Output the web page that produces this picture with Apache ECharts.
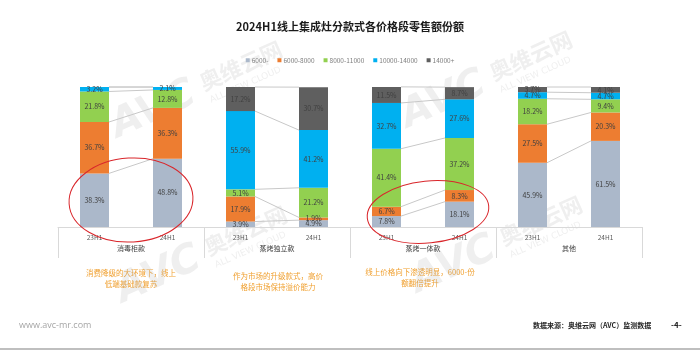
<!DOCTYPE html>
<html lang="zh">
<head>
  <meta charset="UTF-8">
  <title>2024H1线上集成灶分款式各价格段零售额份额</title>
  <script src="https://cdn.jsdelivr.net/npm/echarts@6/dist/echarts.min.js"></script>
  <style>
    html, body { margin: 0; padding: 0; background: #fff; }
    #main { width: 700px; height: 351px; }
  </style>
</head>
<body>
  <div id="main"></div>
  <script type="text/javascript">
    // 数据
    var periods = ['23H1', '24H1', '23H1', '24H1', '23H1', '24H1', '23H1', '24H1'];
    var groups = ['消毒柜款', '蒸烤独立款', '蒸烤一体款', '其他'];
    var bandNames = ['6000-', '6000-8000', '8000-11000', '10000-14000', '14000+'];
    var below6000 = [38.3, 48.8, 3.9, 4.9, 7.8, 18.1, 45.9, 61.5];
    var p6000to8000 = [36.7, 36.3, 17.9, 1.9, 6.7, 8.3, 27.5, 20.3];
    var p8000to11000 = [21.8, 12.8, 5.1, 21.2, 41.4, 37.2, 18.2, 9.4];
    var p10000to14000 = [3.2, 2.1, 55.9, 41.2, 32.7, 27.6, 4.7, 4.7];
    var above14000 = [0, 0, 17.2, 30.7, 11.5, 8.7, 3.7, 4.1];
    var notes = [
      '消费降级的大环境下，线上\n低端基础款复苏',
      '作为市场的升级款式，高价\n格段市场保持溢价能力',
      '线上价格向下渗透明显，6000-份\n额翻倍提升'
    ];

    var colors = ['#ABB8CA', '#ED7D31', '#92D050', '#00B0F0', '#5F5F5F'];
    var bands = [below6000, p6000to8000, p8000to11000, p10000to14000, above14000];
    var font = '"Noto Sans CJK SC", "Noto Sans", sans-serif';
    var barW = 29;

    var myChart = echarts.init(document.getElementById('main'));

    // 连接线：每组两根柱子之间的累计分界
    var links = [];
    for (var g = 0; g < groups.length; g++) {
      var c1 = 0, c2 = 0;
      for (var s = 0; s < bands.length; s++) {
        c1 += bands[s][g * 2];
        c2 += bands[s][g * 2 + 1];
        links.push([g, c1, c2]);
      }
    }

    var series = bands.map(function (arr, i) {
      return {
        name: bandNames[i],
        type: 'bar',
        stack: 'total',
        barWidth: barW,
        data: arr,
        itemStyle: { color: colors[i] },
        label: {
          show: true,
          color: '#404040',
          fontSize: 7,
          fontFamily: font,
          formatter: function (p) { return p.value ? p.value.toFixed(1) + '%' : ''; }
        }
      };
    });

    series.push({
      type: 'custom',
      silent: true,
      z: 1,
      data: links,
      encode: { x: 0, y: 1 },
      renderItem: function (params, api) {
        var g = api.value(0);
        var a = api.coord([g * 2, api.value(1)]);
        var b = api.coord([g * 2 + 1, api.value(2)]);
        return {
          type: 'line',
          shape: { x1: a[0] + barW / 2, y1: a[1], x2: b[0] - barW / 2, y2: b[1] },
          style: { stroke: '#C8C8C8', lineWidth: 1 }
        };
      }
    });

    // 水印
    function watermark(x, y) {
      var c = 'rgba(175,175,175,0.2)';
      return {
        type: 'group', x: x, y: y, rotation: 0.42, z: 50, silent: true,
        children: [
          { type: 'text', x: 0, y: 0, style: { text: 'AVC', font: 'italic bold 40px "DejaVu Sans"', fill: c } },
          { type: 'text', x: 98, y: 4, style: { text: '奥维云网', font: 'bold 22px ' + font, fill: c } },
          { type: 'text', x: 100, y: 30, style: { text: 'ALL VIEW CLOUD', font: '9px "DejaVu Sans"', fill: c } }
        ]
      };
    }

    function note(x, y, t) {
      return {
        type: 'text', x: x, y: y,
        style: { text: t, font: '7.5px ' + font, fill: '#F0A030', align: 'center', lineHeight: 11 }
      };
    }

    var option = {
      animation: false,
      title: {
        text: '2024H1线上集成灶分款式各价格段零售额份额',
        left: 'center',
        top: 16,
        textStyle: { fontSize: 11, fontWeight: 'bold', color: '#1a1a1a', fontFamily: font }
      },
      legend: {
        data: bandNames,
        left: 'center',
        top: 52,
        icon: 'rect',
        itemWidth: 4,
        itemHeight: 4,
        itemGap: 9,
        textStyle: { fontSize: 6.5, color: '#7F7F7F', fontFamily: font, padding: [0, 0, 0, -3] }
      },
      grid: { left: 58, right: 58, top: 87, bottom: 124 },
      xAxis: [{
        type: 'category',
        data: periods,
        axisLine: { lineStyle: { color: '#D9D9D9' } },
        axisTick: { show: false },
        axisLabel: { fontSize: 6.5, color: '#595959', margin: 7, fontFamily: font }
      }, {
        type: 'category',
        data: groups,
        position: 'bottom',
        axisLine: { show: false },
        axisTick: { show: true, length: 31, lineStyle: { color: '#D9D9D9' } },
        axisLabel: { fontSize: 7, color: '#404040', margin: 18, fontFamily: font }
      }],
      yAxis: { type: 'value', min: 0, max: 100, show: false },
      series: series,
      graphic: [
        { type: 'rect', shape: { x: 0, y: 348, width: 700, height: 2 }, style: { fill: '#BFBFBF' } },
        { type: 'text', x: 19, y: 321, style: { text: 'www.avc-mr.com', font: '9px "Open Sans"', fill: '#A6A6A6' } },
        { type: 'text', x: 533, y: 322, style: { text: '数据来源：奥维云网（AVC）监测数据', font: 'bold 7px ' + font, fill: '#262626' } },
        { type: 'text', x: 671, y: 321, style: { text: '-4-', font: 'bold 8px ' + font, fill: '#262626' } },
        note(131, 268, notes[0]),
        note(278, 271, notes[1]),
        note(420, 267, notes[2]),
        { type: 'ellipse', z: 60, rotation: 0.06, x: 131, y: 200, shape: { cx: 0, cy: 0, rx: 62, ry: 42 }, style: { fill: 'none', stroke: '#D9262B', lineWidth: 1 } },
        { type: 'ellipse', z: 60, rotation: 0.1, x: 428, y: 212, shape: { cx: 0, cy: 0, rx: 61, ry: 31 }, style: { fill: 'none', stroke: '#D9262B', lineWidth: 1 } },
        watermark(105, 110),
        watermark(395, 100),
        watermark(110, 275),
        watermark(405, 265)
      ]
    };

    myChart.setOption(option);

    window.onresize = function () {
      myChart.resize();
    };
  </script>
</body>
</html>
